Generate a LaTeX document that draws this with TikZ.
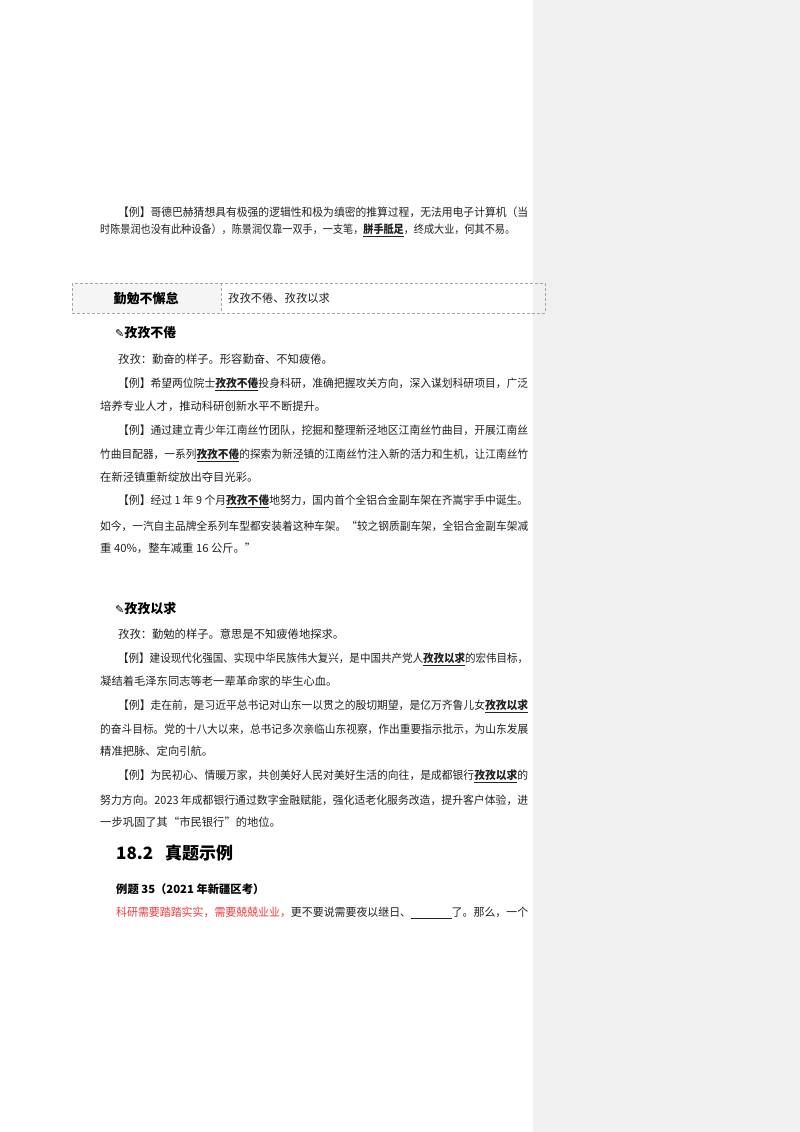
\documentclass[tikz,border=0pt]{standalone}
\usepackage{fontspec}
\usepackage{graphicx}
\setmainfont{Noto Sans CJK SC}
\newfontfamily\djv{DejaVu Sans}
\definecolor{side}{HTML}{F0F0F0}
\definecolor{txt}{HTML}{222222}
\definecolor{red1}{HTML}{F03C3C}
\newcommand{\kw}[1]{\underline{\textbf{#1}}}
\newcommand{\fl}[2]{\resizebox{#1pt}{\height}{#2}}
\begin{document}
\begin{tikzpicture}[x=1pt,y=-1pt,
  ln/.style={anchor=west,inner sep=0pt,font=\fontsize{11.3}{12}\selectfont,text=txt},
  hd/.style={anchor=west,inner sep=0pt,font=\fontsize{13}{14}\selectfont\bfseries,text=black}]
\useasboundingbox (0,0) rectangle (800,1132);
\fill[white] (0,0) rectangle (800,1132);
\fill[side] (533,0) rectangle (800,1132);
% paragraph 1
\node[ln] (p1a) at (118,212) {\fl{410}{【例】哥德巴赫猜想具有极强的逻辑性和极为缜密的推算过程，无法用电子计算机（当}};
\node[ln] (p1b) at (100,230) {\fl{415}{时陈景润也没有此种设备），陈景润仅靠一双手，一支笔，\kw{胼手胝足}，终成大业，何其不易。}};
% table
\fill[gray!8] (72,283) rectangle (221,313);
\draw[gray!70,densely dashed] (72,283) rectangle (545,313);
\draw[gray!70,densely dashed] (221,283) -- (221,313);
\node[hd] (t1) at (146,298) [anchor=center] {勤勉不懈怠};
\node[ln] (t2) at (228,298) {孜孜不倦、孜孜以求};
% section 1
\node[hd] (h1) at (115,333) {{\djv\fontsize{11}{12}\selectfont ✎}孜孜不倦};
\node[ln] (a1) at (118,359) {孜孜：勤奋的样子。形容勤奋、不知疲倦。};
\node[ln] (a2) at (118,384) {\fl{410}{【例】希望两位院士\kw{孜孜不倦}投身科研，准确把握攻关方向，深入谋划科研项目，广泛}};
\node[ln] (a3) at (100,406) {培养专业人才，推动科研创新水平不断提升。};
\node[ln] (a4) at (118,430) {\fl{410}{【例】通过建立青少年江南丝竹团队，挖掘和整理新泾地区江南丝竹曲目，开展江南丝}};
\node[ln] (a5) at (100,455) {\fl{428}{竹曲目配器，一系列\kw{孜孜不倦}的探索为新泾镇的江南丝竹注入新的活力和生机，让江南丝竹}};
\node[ln] (a6) at (100,477) {在新泾镇重新绽放出夺目光彩。};
\node[ln] (a7) at (118,501) {\fl{410}{【例】经过 1 年 9 个月\kw{孜孜不倦}地努力，国内首个全铝合金副车架在齐嵩宇手中诞生。}};
\node[ln] (a8) at (100,526) {\fl{428}{如今，一汽自主品牌全系列车型都安装着这种车架。“较之钢质副车架，全铝合金副车架减}};
\node[ln] (a9) at (100,548) {重 40\%，整车减重 16 公斤。”};
% section 2
\node[hd] (h2) at (115,609) {{\djv\fontsize{11}{12}\selectfont ✎}孜孜以求};
\node[ln] (b1) at (118,634) {孜孜：勤勉的样子。意思是不知疲倦地探求。};
\node[ln] (b2) at (118,659) {\fl{410}{【例】建设现代化强国、实现中华民族伟大复兴，是中国共产党人\kw{孜孜以求}的宏伟目标，}};
\node[ln] (b3) at (100,681) {凝结着毛泽东同志等老一辈革命家的毕生心血。};
\node[ln] (b4) at (118,706) {\fl{410}{【例】走在前，是习近平总书记对山东一以贯之的殷切期望，是亿万齐鲁儿女\kw{孜孜以求}}};
\node[ln] (b5) at (100,729) {\fl{428}{的奋斗目标。党的十八大以来，总书记多次亲临山东视察，作出重要指示批示，为山东发展}};
\node[ln] (b6) at (100,751) {精准把脉、定向引航。};
\node[ln] (b7) at (118,776) {\fl{410}{【例】为民初心、情暖万家，共创美好人民对美好生活的向往，是成都银行\kw{孜孜以求}的}};
\node[ln] (b8) at (100,800) {\fl{428}{努力方向。2023 年成都银行通过数字金融赋能，强化适老化服务改造，提升客户体验，进}};
\node[ln] (b9) at (100,822) {一步巩固了其“市民银行”的地位。};
% 18.2
\node[anchor=west,inner sep=0pt,font=\fontsize{17}{18}\selectfont\bfseries] (s) at (116,853) {18.2\hspace{12pt}真题示例};
\node[anchor=west,inner sep=0pt,font=\fontsize{11.3}{12}\selectfont\bfseries] (ex) at (116,889) {例题 35（2021 年新疆区考）};
\node[ln] (q) at (116,913) {\fl{412}{\textcolor{red1}{科研需要踏踏实实，需要兢兢业业，}更不要说需要夜以继日、\underline{\hspace{42pt}}了。那么，一个}};
\end{tikzpicture}
\end{document}
